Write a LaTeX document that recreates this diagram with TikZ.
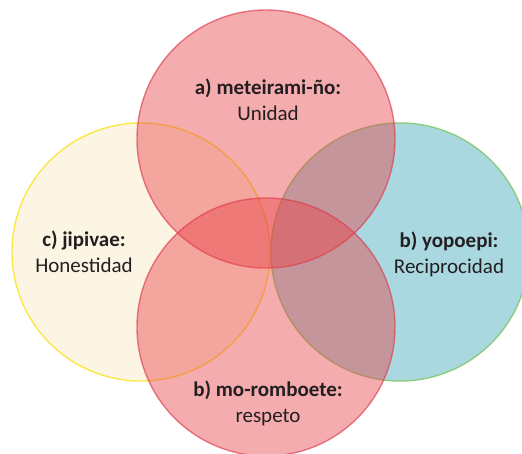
\documentclass[tikz,border=0pt]{standalone}
\usepackage{fontspec}
\setmainfont{Carlito}
\usepackage{tikz}
\usetikzlibrary{positioning}
\definecolor{petal}{RGB}{233,65,70}
\definecolor{petaledge}{RGB}{220,60,78}
\definecolor{cream}{RGB}{253,245,228}
\definecolor{sunedge}{RGB}{250,232,70}
\definecolor{sky}{RGB}{169,216,225}
\definecolor{leafedge}{RGB}{140,204,128}
\definecolor{ink}{RGB}{35,31,32}

\begin{document}
\begin{tikzpicture}[x=1pt, y=-1pt,
  ring/.style={circle, minimum size=258pt, inner sep=0pt, line width=1.4pt},
  petalring/.style={ring, fill=petal, fill opacity=0.44,
                    draw=petaledge, draw opacity=0.65},
  tag/.style={align=center, text=ink, font=\fontsize{21}{26}\selectfont}]
\useasboundingbox (0,0) rectangle (522,454);
% side circles first, the red ones lie over them
\node[ring, fill=cream, draw=sunedge] (honesty) at (141,252) {};
\node[ring, fill=sky, draw=leafedge] (recip) at (400,252) {};
\node[petalring] (unity) at (266,139) {};
\node[petalring] (respect) at (266,327) {};
% labels
\node[tag] (unitytag) at (268,100) {\textbf{a) meteirami-ño:}\\Unidad};
\node[tag] (honestytag) at (84,252) {\textbf{c) jipivae:}\\Honestidad};
\node[tag] (reciptag) at (449,254) {\textbf{b) yopoepi:}\\Reciprocidad};
\node[tag] (respecttag) at (268,403) {\textbf{b) mo-romboete:}\\respeto};
\end{tikzpicture}
\end{document}
